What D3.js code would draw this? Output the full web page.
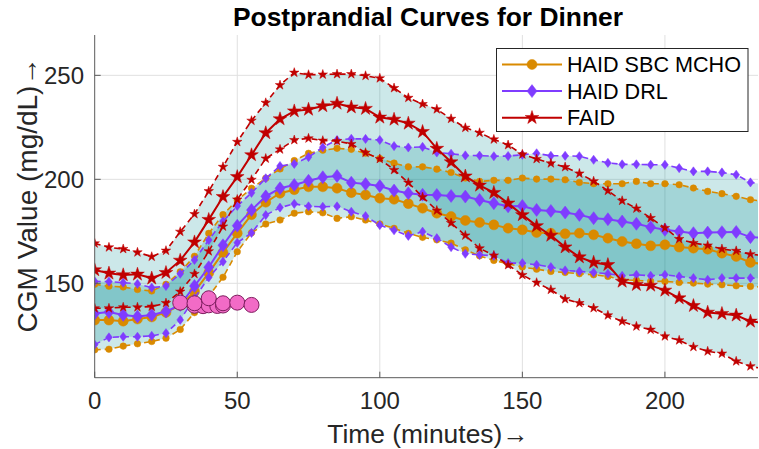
<!DOCTYPE html>
<html>
<head>
<meta charset="utf-8">
<script src="https://cdn.jsdelivr.net/npm/d3@7"></script>
<style>
  html, body { margin: 0; padding: 0; background: #fff; }
  svg { display: block; font-family: "Liberation Sans", Arial, sans-serif; }
</style>
</head>
<body>
<svg id="chart"></svg>
<script>
// minutes after the meal
const minutes = [0, 5, 10, 15, 20, 25, 30, 35, 40, 45, 50, 55, 60, 65, 70, 75, 80, 85, 90, 95,
  100, 105, 110, 115, 120, 125, 130, 135, 140, 145, 150, 155, 160, 165, 170, 175, 180, 185, 190, 195,
  200, 205, 210, 215, 220, 225, 230, 235];

// HAID SBC MCHO (orange)
const sbcMean = [132.3, 132.3, 131.8, 132.8, 133.8, 136, 139.5, 146, 155, 164.8,
  174.1, 183, 189, 193.3, 195, 196.4, 196.4, 195.7, 193.6, 192.5,
  190.9, 190.4, 188.3, 186.1, 183.7, 182.1, 180.2, 179.2, 178.1, 176.5,
  175.7, 174.4, 174.1, 173.8, 174.1, 173.3, 171.7, 170.1, 169, 168,
  168.5, 167.4, 166.9, 166.4, 164.5, 162.9, 160, 159.2];
const sbcUpper = [149.5, 148.6, 148.2, 147, 146.3, 149.5, 155.5, 163, 174, 183,
  190, 195.7, 200.5, 205, 209, 212.5, 214, 214.9, 214.4, 212.5,
  210, 207.8, 206, 206, 204.9, 203.3, 200.6, 199, 199.5, 199.5,
  200.6, 200.1, 200.1, 199.8, 198.5, 197.9, 197.9, 197.9, 199, 197.9,
  197.9, 197.4, 195.8, 194.2, 193.1, 191.8, 190.2, 189.3];
const sbcLower = [118, 118.3, 119.8, 120.9, 122, 123.6, 127.8, 135.9, 143.7, 152.9,
  165.2, 174.3, 178.5, 180.4, 183.7, 184.4, 183.9, 181.2, 182, 180.4,
  178.5, 176.4, 174, 172.1, 170.9, 169.3, 166.1, 163.2, 161, 159.4,
  157.8, 156.8, 155.7, 155.2, 154.6, 154.1, 153.3, 151.7, 151.4, 150.9,
  150.9, 150.4, 150.1, 149.6, 149.3, 148.8, 148.5, 148.1];

// HAID DRL (purple)
const drlMean = [135.5, 136.2, 134.8, 134, 134.8, 136.4, 139.6, 148.7, 157.7, 168.3,
  177.7, 185.2, 191.8, 195.7, 197.3, 199.3, 201, 201.6, 198.4, 197.7,
  196.8, 194.6, 193.3, 192.6, 192.5, 192, 191.7, 190.1, 188.5, 187,
  187.2, 185.3, 184.8, 184, 182.9, 181.3, 180.8, 179.7, 178.6, 177,
  175.7, 174.9, 174.1, 174.4, 174.6, 174.7, 172.2, 171.8];
const drlUpper = [150.9, 150.8, 150.3, 149.7, 147.9, 148.7, 154.6, 161.2, 170.8, 179.8,
  187.2, 193.5, 200.5, 206.4, 207.4, 210.7, 215.4, 218.9, 219.5, 219.4,
  218.9, 216, 215.3, 215.6, 212.9, 212.3, 211.5, 211.4, 211.1, 211.2,
  211.8, 212.5, 211.3, 211.3, 211.1, 209.4, 207.9, 207.2, 207.2, 207,
  207, 205.4, 203.8, 203.8, 203.3, 202.2, 198.5, 197.6];
const drlLower = [120.5, 124, 124.3, 124.3, 124.7, 126, 132.4, 142.8, 152.8, 160.4,
  169.5, 174.2, 182.8, 186.4, 188.2, 187, 186.8, 187, 184.4, 182.3,
  178, 175.5, 172.8, 174.8, 171.7, 167.4, 164.2, 163.7, 163.2, 159.7,
  159.7, 158.9, 157.8, 156.2, 155.7, 155.2, 154.6, 153.6, 154.1, 153.6,
  154.1, 153.3, 152.5, 151.7, 152.5, 152.5, 152.5, 152.3];

// FAID (red)
const faidMean = [156.4, 154.8, 154, 154.3, 152.4, 155.1, 161, 169.8, 180.6, 191.6,
  201.2, 211.7, 222.3, 229, 232.8, 233.6, 235.3, 236.5, 234.7, 234,
  229.8, 228.8, 226.9, 222.9, 214.8, 208.3, 201.5, 197.1, 193.6, 188.5,
  182.9, 177.6, 173, 167.4, 162.6, 160, 158.9, 150.9, 149.3, 149,
  146.6, 142.9, 139.2, 136, 135.4, 134.6, 131.7, 130.8];
const faidUpper = [169.2, 167.3, 166.5, 164.9, 162.8, 165.7, 174.8, 183.3, 194.3, 206,
  218, 228.2, 236.8, 245.3, 251.3, 250.3, 250.4, 250.6, 250.6, 249.8,
  248.6, 243.9, 239.2, 236.2, 233.7, 229.1, 224.8, 222.4, 219.2, 216.5,
  212, 209.8, 207.7, 205.9, 202.8, 199.1, 194.5, 189.7, 186, 181.4,
  176.6, 171.3, 169.4, 168.2, 166.5, 165.6, 164, 163.2];
const faidLower = [138, 138, 138.5, 138.5, 138.8, 140.5, 146, 154.5, 165.4, 177.3,
  190.3, 199.8, 210, 214.4, 218.9, 219.7, 218.6, 218.4, 217, 212.8,
  209.8, 204.5, 198.4, 191.5, 185, 179, 173, 166.8, 163.4, 158.8,
  154, 150.3, 146.9, 142.4, 140.5, 138.1, 134.6, 131.7, 129.3, 127.7,
  124.5, 122.6, 119.4, 117.3, 116.2, 112.5, 110.1, 108.8];

// meal markers (pink)
const mealMinutes = [35, 38, 40, 43, 45, 30, 35, 40, 45, 50, 55];
const mealValues = [139.2, 139, 139.4, 139.1, 139.3, 140.7, 140.4, 142.8, 140.4, 140.7, 139.6];

const seriesNames = ["HAID SBC MCHO", "HAID DRL", "FAID"];
const seriesColors = ["#d98a00", "#7f3cff", "#c00000"];
const xTicks = [0, 50, 100, 150, 200];
const yTicks = [150, 200, 250];

document.addEventListener("DOMContentLoaded", function () {
    const width = 759;
    const height = 449;
    const margin = { left: 94.7, right: 1, top: 35, bottom: 71.3 };

    const svg = d3.select("#chart")
        .attr("width", width)
        .attr("height", height);

    const x = d3.scaleLinear()
        .domain([0, 232.65])
        .range([margin.left, width - margin.right]);
    const y = d3.scaleLinear()
        .domain([104.6, 269.4])
        .range([height - margin.bottom, margin.top]);

    svg.append("clipPath").attr("id", "plotclip")
        .append("rect")
        .attr("x", x.range()[0]).attr("y", y.range()[1])
        .attr("width", x.range()[1] - x.range()[0])
        .attr("height", y.range()[0] - y.range()[1]);

    // grid
    const grid = svg.append("g");
    grid.selectAll(".vgrid").data(xTicks.slice(1)).enter().append("line")
        .attr("x1", d => x(d)).attr("x2", d => x(d))
        .attr("y1", y.range()[0]).attr("y2", y.range()[1])
        .attr("stroke", "#e0e0e0").attr("stroke-width", 1);
    grid.selectAll(".hgrid").data(yTicks).enter().append("line")
        .attr("x1", x.range()[0]).attr("x2", x.range()[1])
        .attr("y1", d => y(d)).attr("y2", d => y(d))
        .attr("stroke", "#e0e0e0").attr("stroke-width", 1);

    const plot = svg.append("g").attr("clip-path", "url(#plotclip)");

    const series = [
        { mean: sbcMean, upper: sbcUpper, lower: sbcLower, shape: "circle" },
        { mean: drlMean, upper: drlUpper, lower: drlLower, shape: "diamond" },
        { mean: faidMean, upper: faidUpper, lower: faidLower, shape: "star" }
    ];
    series.forEach((s, i) => { s.name = seriesNames[i]; s.color = seriesColors[i]; });

    // shaded bands between upper and lower bounds
    const area = d3.area()
        .x((d, i) => x(minutes[i]))
        .y0(d => y(d[0]))
        .y1(d => y(d[1]));
    series.forEach(s => {
        plot.append("path")
            .datum(s.lower.map((v, i) => [v, s.upper[i]]))
            .attr("d", area)
            .attr("fill", "#008a8f")
            .attr("fill-opacity", 0.2);
    });

    // marker shapes
    function markerPath(shape, big) {
        if (shape === "circle") {
            const r = big ? 5 : 3.3;
            return d3.symbol().type(d3.symbolCircle).size(Math.PI * r * r)();
        }
        if (shape === "diamond") {
            const w = big ? 5 : 3.4, h = big ? 6.5 : 4.6;
            return `M0,${-h}L${w},0L0,${h}L${-w},0Z`;
        }
        const R = big ? 7.2 : 5;
        return d3.symbol().type(d3.symbolStar).size(R * R / 0.8908)();
    }

    const line = d3.line()
        .x((d, i) => x(minutes[i]))
        .y(d => y(d));

    series.forEach(s => {
        [[s.mean, true], [s.upper, false], [s.lower, false]].forEach(([vals, big]) => {
            plot.append("path")
                .datum(vals)
                .attr("d", line)
                .attr("fill", "none")
                .attr("stroke", s.color)
                .attr("stroke-width", big ? 2 : 1.6)
                .attr("stroke-dasharray", big ? null : "6,4");
            plot.selectAll(null)
                .data(vals)
                .enter()
                .append("path")
                .attr("d", markerPath(s.shape, big))
                .attr("transform", (d, i) => `translate(${x(minutes[i])},${y(d)})`)
                .attr("fill", s.color)
                .attr("stroke", s.color)
                .attr("stroke-width", 0.5);
        });
    });

    // meal markers
    plot.selectAll(".meal")
        .data(mealValues)
        .enter()
        .append("circle")
        .attr("cx", (d, i) => x(mealMinutes[i]))
        .attr("cy", d => y(d))
        .attr("r", 7.5)
        .attr("fill", "#f26bc6")
        .attr("stroke", "#7d1d5e")
        .attr("stroke-width", 1);

    // axes
    const axisColor = "#262626";
    svg.append("line")
        .attr("x1", x.range()[0]).attr("x2", x.range()[0])
        .attr("y1", y.range()[0]).attr("y2", y.range()[1])
        .attr("stroke", "#5a5a5a").attr("stroke-width", 1);
    svg.append("line")
        .attr("x1", x.range()[0]).attr("x2", x.range()[1])
        .attr("y1", y.range()[0]).attr("y2", y.range()[0])
        .attr("stroke", "#5a5a5a").attr("stroke-width", 1);

    svg.selectAll(".xtick").data(xTicks).enter().append("line")
        .attr("x1", d => x(d)).attr("x2", d => x(d))
        .attr("y1", y.range()[0]).attr("y2", y.range()[0] - 6)
        .attr("stroke", "#5a5a5a");
    svg.selectAll(".ytick").data(yTicks).enter().append("line")
        .attr("x1", x.range()[0]).attr("x2", x.range()[0] + 6)
        .attr("y1", d => y(d)).attr("y2", d => y(d))
        .attr("stroke", "#5a5a5a");

    svg.selectAll(".xlabel").data(xTicks).enter().append("text")
        .attr("x", d => x(d))
        .attr("y", 409)
        .attr("text-anchor", "middle")
        .attr("font-size", 24)
        .attr("fill", axisColor)
        .text(d => d);
    svg.selectAll(".ylabel").data(yTicks).enter().append("text")
        .attr("x", 84)
        .attr("y", d => y(d) + 8.5)
        .attr("text-anchor", "end")
        .attr("font-size", 24)
        .attr("fill", axisColor)
        .text(d => d);

    // axis titles
    svg.append("text")
        .attr("x", 428)
        .attr("y", 443)
        .attr("text-anchor", "middle")
        .attr("font-size", 26.4)
        .attr("fill", axisColor)
        .text("Time (minutes)\u2192");
    svg.append("text")
        .attr("transform", "translate(37,195) rotate(-90)")
        .attr("text-anchor", "middle")
        .attr("font-size", 28)
        .attr("fill", axisColor)
        .text("CGM Value (mg/dL)\u2192");

    svg.append("text")
        .attr("x", 428)
        .attr("y", 26)
        .attr("text-anchor", "middle")
        .attr("font-size", 26.4)
        .attr("font-weight", "bold")
        .attr("fill", "#000")
        .text("Postprandial Curves for Dinner");

    // legend
    const legend = svg.append("g");
    legend.append("rect")
        .attr("x", 496.5).attr("y", 48.5)
        .attr("width", 251.5).attr("height", 83)
        .attr("fill", "#fff")
        .attr("stroke", "#262626")
        .attr("stroke-width", 1);
    const rows = legend.selectAll(".row").data(series).enter().append("g")
        .attr("transform", (d, i) => `translate(0,${64.5 + i * 26.6})`);
    rows.append("line")
        .attr("x1", 502).attr("x2", 562)
        .attr("stroke", d => d.color).attr("stroke-width", 2);
    rows.append("path")
        .attr("d", d => markerPath(d.shape, true))
        .attr("transform", "translate(532,0)")
        .attr("fill", d => d.color)
        .attr("stroke", d => d.color)
        .attr("stroke-width", 0.5);
    rows.append("text")
        .attr("x", 567)
        .attr("y", 7.7)
        .attr("font-size", 21.6)
        .attr("fill", "#000")
        .text(d => d.name);
});
</script>
</body>
</html>
